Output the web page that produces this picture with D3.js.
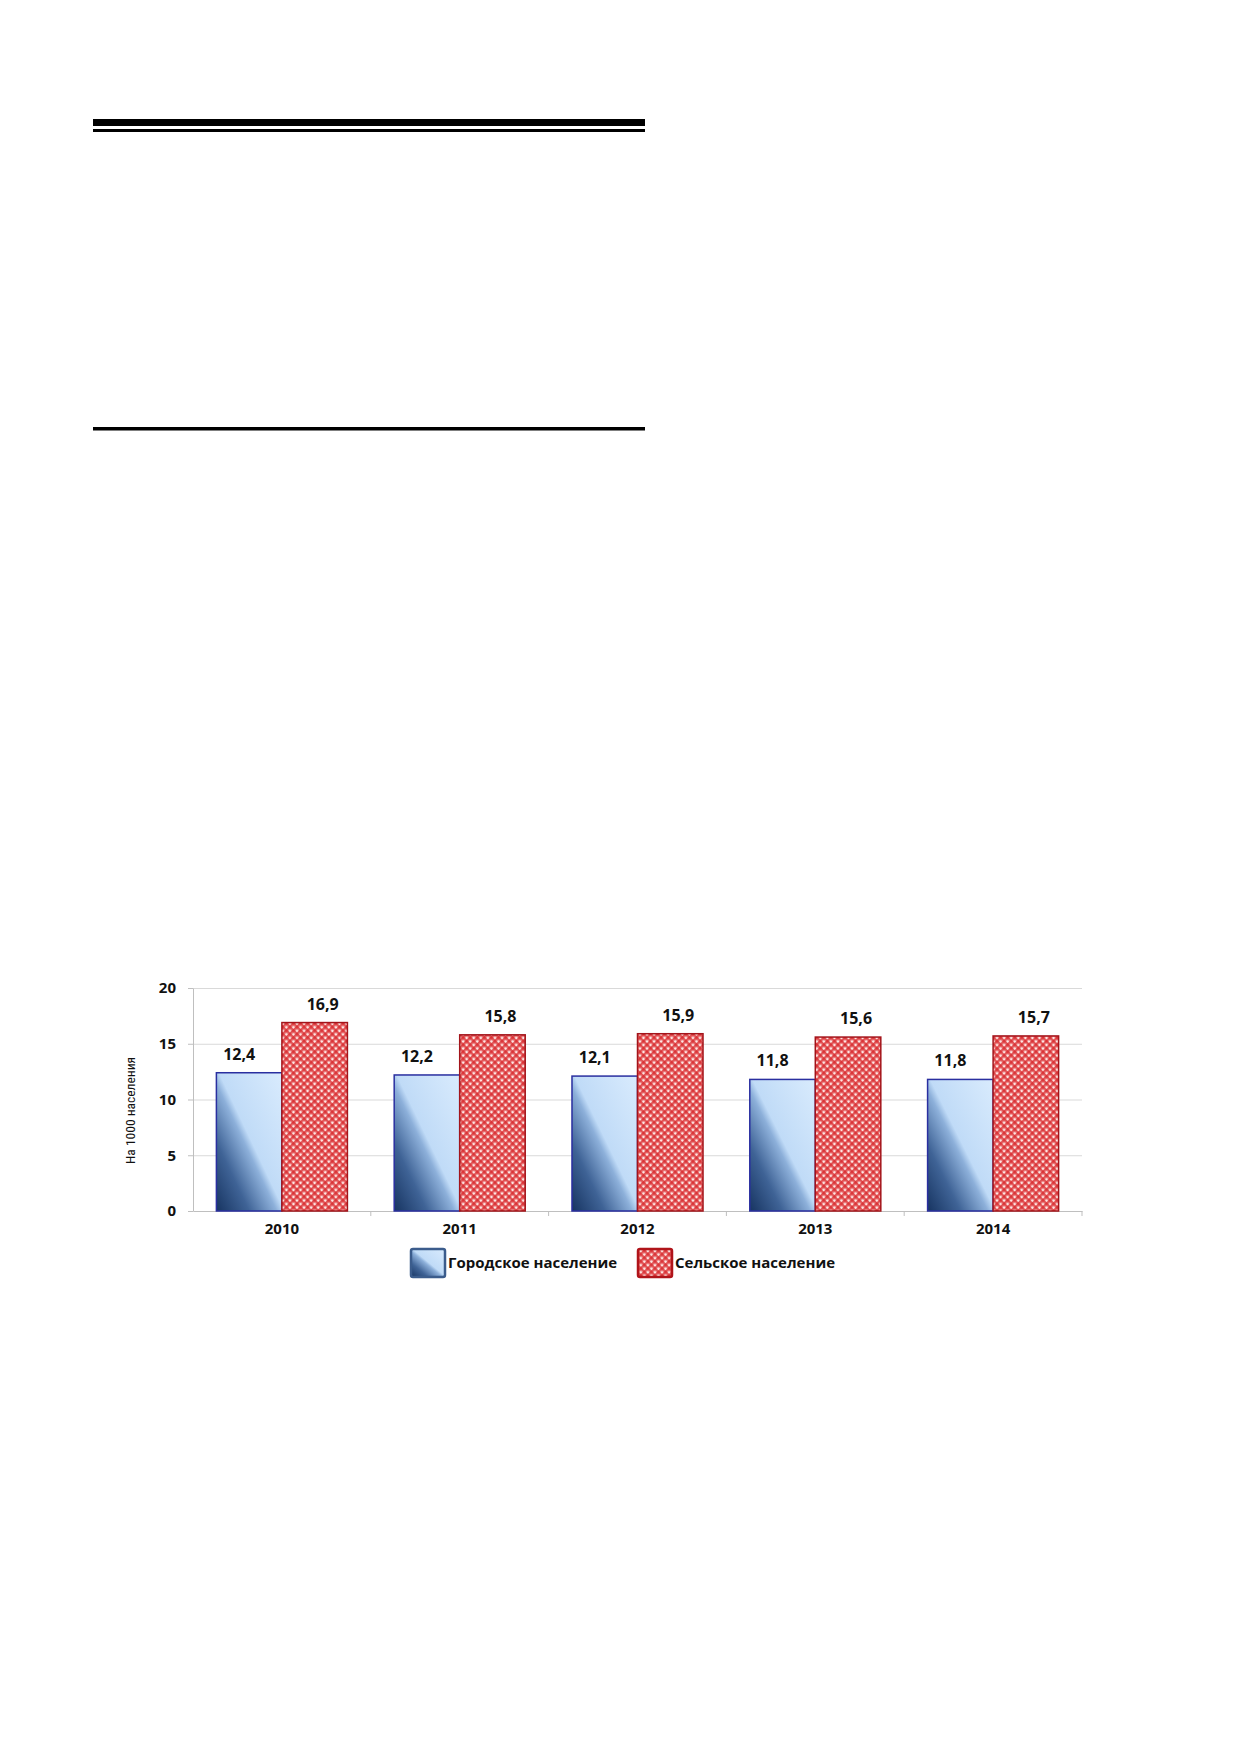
<!DOCTYPE html>
<html>
<head>
<meta charset="utf-8">
<script src="https://cdn.jsdelivr.net/npm/d3@7"></script>
<style>
  html, body { margin: 0; padding: 0; background: #fff; }
  svg { display: block; }
</style>
</head>
<body>
<svg id="page" width="1239" height="1752"></svg>
<script>
/*
 grouped bar chart: urban vs rural, per 1000 population
*/

const years = ["2010", "2011", "2012", "2013", "2014"];
const urban = [12.4, 12.2, 12.1, 11.8, 11.8];
const rural = [16.9, 15.8, 15.9, 15.6, 15.7];
const yTicks = [0, 5, 10, 15, 20];
const seriesNames = ["Городское население", "Сельское население"];
const yTitle = "На 1000 населения";

const font = "'Open Sans', 'Liberation Sans', sans-serif";
const margin = { top: 988, bottom: 1211, left: 193, right: 1082 };

const svg = d3.select("#page");
const defs = svg.append("defs");

// blue: dark bottom-left corner, light top-right
const grad = defs.append("linearGradient")
    .attr("id", "blueGrad")
    .attr("x1", 0).attr("y1", 1)
    .attr("x2", 1).attr("y2", 0);
grad.append("stop").attr("offset", "0").attr("stop-color", "#173461");
grad.append("stop").attr("offset", "0.25").attr("stop-color", "#3f6396");
grad.append("stop").attr("offset", "0.46").attr("stop-color", "#8db0da");
grad.append("stop").attr("offset", "0.52").attr("stop-color", "#c0dbf7");
grad.append("stop").attr("offset", "1").attr("stop-color", "#d9ebfd");

// red: gingham-like diagonal hatch
const pat = defs.append("pattern")
    .attr("id", "redHatch")
    .attr("patternUnits", "userSpaceOnUse")
    .attr("width", 5).attr("height", 5)
    .attr("patternTransform", "rotate(45)");
pat.append("rect").attr("width", 5).attr("height", 5).attr("fill", "#fde6e3");
pat.append("rect").attr("x", 0).attr("y", 0).attr("width", 5).attr("height", 2.6)
    .attr("fill", "#d8262b").attr("fill-opacity", 0.75);
pat.append("rect").attr("x", 0).attr("y", 0).attr("width", 2.6).attr("height", 5)
    .attr("fill", "#d8262b").attr("fill-opacity", 0.75);

// page rules above the chart
const rules = svg.append("g").attr("fill", "#000");
rules.append("rect").attr("x", 93).attr("y", 119).attr("width", 552).attr("height", 7);
rules.append("rect").attr("x", 93).attr("y", 129).attr("width", 552).attr("height", 3);
rules.append("rect").attr("x", 93).attr("y", 427).attr("width", 552).attr("height", 3.5);

// scales
const x0 = d3.scaleBand()
    .domain(years)
    .range([margin.left, margin.right])
    .padding(0);

const x1 = d3.scaleBand()
    .domain([0, 1])
    .range([0, x0.bandwidth()])
    .paddingInner(0)
    .paddingOuter(0.357);

const y = d3.scaleLinear()
    .domain([0, 20])
    .range([margin.bottom, margin.top]);

const g = svg.append("g");

// gridlines
g.append("g")
    .attr("transform", `translate(${margin.left},0)`)
    .call(d3.axisLeft(y).tickValues(yTicks.slice(1)).tickSize(-(margin.right - margin.left)).tickFormat(""))
    .call(g => g.select(".domain").remove())
    .call(g => g.selectAll("line").attr("stroke", "#d9d9d9"));

// y axis
g.append("g")
    .attr("transform", `translate(${margin.left},0)`)
    .call(d3.axisLeft(y).tickValues(yTicks).tickSize(5).tickPadding(12).tickSizeOuter(0))
    .call(g => g.select(".domain").attr("stroke", "#bfbfbf"))
    .call(g => g.selectAll("line").attr("stroke", "#bfbfbf"))
    .call(g => g.selectAll("text")
        .attr("font-family", font)
        .attr("font-size", 15)
        .attr("font-weight", "bold")
        .attr("fill", "#111"));

// x axis
g.append("g")
    .attr("transform", `translate(0,${margin.bottom})`)
    .call(d3.axisBottom(x0).tickSize(0).tickPadding(12).tickSizeOuter(0))
    .call(g => g.select(".domain").attr("stroke", "#bfbfbf"))
    .call(g => g.selectAll("text")
        .attr("font-family", font)
        .attr("font-size", 15)
        .attr("font-weight", "bold")
        .attr("fill", "#111"));

// category boundary ticks
g.append("g")
    .attr("stroke", "#bfbfbf")
    .selectAll("line")
    .data(years.slice(1).concat(["end"]))
    .join("line")
    .attr("x1", d => d === "end" ? margin.right : x0(d))
    .attr("x2", d => d === "end" ? margin.right : x0(d))
    .attr("y1", margin.bottom)
    .attr("y2", margin.bottom + 5);

// y title
g.append("text")
    .attr("transform", `translate(135,${(margin.top + margin.bottom) / 2 + 11}) rotate(-90)`)
    .attr("font-family", "'Liberation Sans Narrow', 'Roboto', sans-serif")
    .attr("font-size", 13.5)
    .attr("text-anchor", "middle")
    .attr("fill", "#111")
    .style("font-stretch", "condensed")
    .text(yTitle);

// bars
const fmt = v => v.toFixed(1).replace(".", ",");
const series = [
    { values: urban, fill: "url(#blueGrad)", stroke: "#2a2fa0", dx: -10 },
    { values: rural, fill: "url(#redHatch)", stroke: "#a3141a", dx: 8 },
];

series.forEach((s, si) => {
    const sg = g.append("g");
    sg.selectAll("rect")
        .data(s.values)
        .join("rect")
        .attr("x", (d, i) => x0(years[i]) + x1(si))
        .attr("y", d => y(d))
        .attr("width", x1.bandwidth())
        .attr("height", d => y(0) - y(d))
        .attr("fill", s.fill)
        .attr("stroke", s.stroke)
        .attr("stroke-width", 1.5);

    sg.selectAll("text")
        .data(s.values)
        .join("text")
        .attr("x", (d, i) => x0(years[i]) + x1(si) + x1.bandwidth() / 2 + s.dx)
        .attr("y", d => y(d) - 13)
        .attr("text-anchor", "middle")
        .attr("font-family", font)
        .attr("font-size", 16)
        .attr("font-weight", "bold")
        .attr("fill", "#111")
        .text(fmt);
});

// legend
const legend = svg.append("g").attr("transform", "translate(411,1249)");
const items = [
    { name: seriesNames[0], fill: "url(#blueGrad)", stroke: "#3b5c8c", x: 0 },
    { name: seriesNames[1], fill: "url(#redHatch)", stroke: "#b0141a", x: 227 },
];
items.forEach(it => {
    legend.append("rect")
        .attr("x", it.x)
        .attr("y", 0)
        .attr("width", 34)
        .attr("height", 28)
        .attr("rx", 2)
        .attr("fill", it.fill)
        .attr("stroke", it.stroke)
        .attr("stroke-width", 2.5);
    legend.append("text")
        .attr("x", it.x + 37)
        .attr("y", 19)
        .attr("font-family", font)
        .attr("font-size", 15)
        .attr("font-weight", "bold")
        .attr("fill", "#111")
        .text(it.name);
});
</script>
</body>
</html>
